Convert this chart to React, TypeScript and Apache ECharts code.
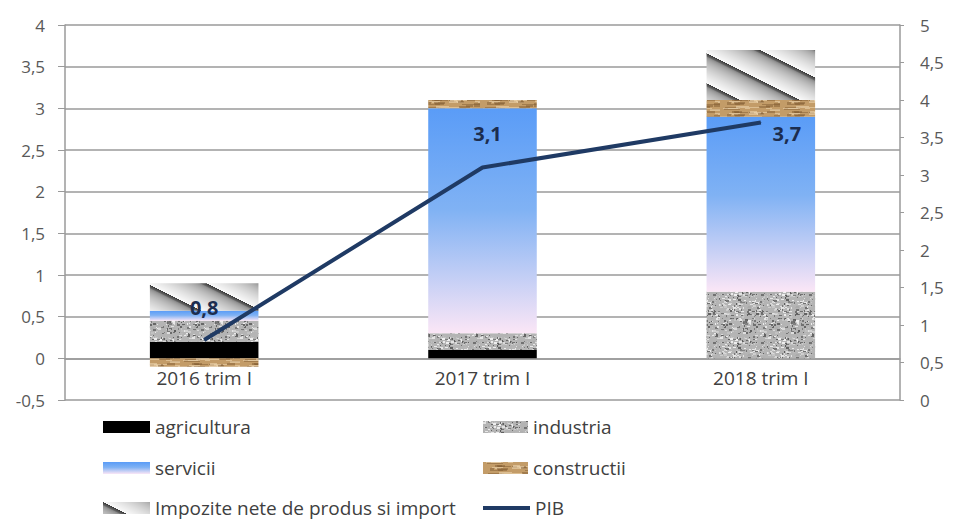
import React, { useEffect, useRef } from 'react';
import * as echarts from 'echarts';

const categories = ['2016 trim I', '2017 trim I', '2018 trim I'];
const agricultura = [0.2, 0.1, 0];
const industria = [0.25, 0.2, 0.8];
const servicii = [0.12, 2.7, 2.1];
const constructii = [-0.1, 0.1, 0.2];
const impozite = [0.33, 0, 0.6];
const pib = [0.8, 3.1, 3.7];
const pibLabelOffsets = [[0, -17], [5, -19], [26, 26]];

const leftAxis = { min: -0.5, max: 4, step: 0.5 };
const rightAxis = { min: 0, max: 5, step: 0.5 };

const GRID = { left: 65, right: 55, top: 25, bottom: 120 };
const PLOT_H = 520 - GRID.top - GRID.bottom;
const ZERO_OFFSET = -((0 - leftAxis.min) / (leftAxis.max - leftAxis.min)) * PLOT_H;

function makeRng(seed: number) {
  let s = seed >>> 0;
  return () => {
    s = (s * 1664525 + 1013904223) >>> 0;
    return s / 4294967296;
  };
}

function granite(): HTMLCanvasElement {
  const c = document.createElement('canvas');
  c.width = 48; c.height = 48;
  const ctx = c.getContext('2d')!;
  const r = makeRng(7);
  ctx.fillStyle = '#b4b4b4';
  ctx.fillRect(0, 0, 48, 48);
  for (let i = 0; i < 420; i++) {
    const x = Math.floor(r() * 48);
    const y = Math.floor(r() * 48);
    const q = r();
    const v = q < 0.35 ? Math.round(90 + r() * 40) : Math.round(170 + r() * 70);
    ctx.fillStyle = `rgb(${v},${v},${v})`;
    ctx.fillRect(x, y, 1 + Math.floor(r() * 3), 1 + Math.floor(r() * 2));
  }
  return c;
}

function wood(): HTMLCanvasElement {
  const c = document.createElement('canvas');
  c.width = 60; c.height = 12;
  const ctx = c.getContext('2d')!;
  const r = makeRng(11);
  ctx.fillStyle = '#c39c68';
  ctx.fillRect(0, 0, 60, 12);
  for (let i = 0; i < 40; i++) {
    const x = Math.floor(r() * 60);
    const y = Math.floor(r() * 12);
    const w = 4 + Math.floor(r() * 12);
    const dark = r() < 0.5;
    ctx.fillStyle = dark ? 'rgba(130,92,50,0.5)' : 'rgba(236,214,175,0.6)';
    ctx.fillRect(x, y, w, 1 + Math.floor(r() * 2));
  }
  return c;
}

function stripes(): HTMLCanvasElement {
  const P = 30;
  const c = document.createElement('canvas');
  c.width = P * 2; c.height = P;
  const ctx = c.getContext('2d')!;
  const img = ctx.createImageData(P * 2, P);
  for (let y = 0; y < P; y++) {
    for (let x = 0; x < P * 2; x++) {
      let u = (y - 0.5 * x) % P;
      if (u < 0) u += P;
      const t = u / P;
      let v: number;
      if (t < 0.1) v = 60 + 50 * (t / 0.1);
      else v = 120 + 130 * Math.pow((t - 0.1) / 0.9, 0.5);
      const i = (y * P * 2 + x) * 4;
      img.data[i] = v; img.data[i + 1] = v; img.data[i + 2] = v; img.data[i + 3] = 255;
    }
  }
  ctx.putImageData(img, 0, 0);
  return c;
}

const fmt = (v: number) => String(v).replace('.', ',');
const FONT = 'Open Sans';
const NAVY = '#1f3a64';

export default function App() {
  const ref = useRef<HTMLDivElement>(null);
  useEffect(() => {
    if (!ref.current) return;
    const chart = echarts.init(ref.current, undefined, { renderer: 'svg' });
    const graniteP = { image: granite(), repeat: 'repeat' };
    const woodP = { image: wood(), repeat: 'repeat' };
    const stripeP = { image: stripes(), repeat: 'repeat' };
    const servGrad = new echarts.graphic.LinearGradient(0, 0, 0, 1, [
      { offset: 0, color: '#5a9cf7' },
      { offset: 0.45, color: '#80b2f4' },
      { offset: 1, color: '#fbe6f6' },
    ]);
    const barW = '39%';
    const bar = (name: string, data: number[], color: any) => ({
      name, type: 'bar', stack: 'total', data, barWidth: barW,
      itemStyle: { color }, yAxisIndex: 0,
    });
    const legendItem = (name: string, left: number, top: number, w: number) => {
      const isLine = name === 'PIB';
      const item: any = {
        data: [name], left, top, padding: 0, itemWidth: w, itemHeight: isLine ? 4 : 12,
        icon: 'rect',
        textStyle: { fontFamily: FONT, fontSize: 19, color: '#404040', lineHeight: 20 },
        selectedMode: false,
      };
      if (isLine) item.itemStyle = { color: NAVY };
      return item;
    };
    chart.setOption({
      animation: false,
      grid: GRID,
      legend: [
        legendItem('agricultura', 103, 417, 47),
        legendItem('industria', 483, 417, 45),
        legendItem('servicii', 103, 458, 47),
        legendItem('constructii', 483, 458, 45),
        legendItem('Impozite nete de produs si import', 103, 498, 47),
        legendItem('PIB', 483, 498, 47),
      ],
      xAxis: {
        type: 'category', data: categories, offset: ZERO_OFFSET,
        axisLine: { onZero: false, lineStyle: { color: '#9a9a9a', width: 1.5 } },
        axisTick: { show: false },
        axisLabel: { fontFamily: FONT, fontSize: 19, color: '#404040', margin: 10 },
      },
      yAxis: [
        {
          type: 'value', min: leftAxis.min, max: leftAxis.max, interval: leftAxis.step,
          axisLine: { show: true, lineStyle: { color: '#9a9a9a', width: 1.5 } },
          axisTick: { show: true, length: 7, lineStyle: { color: '#9a9a9a' } },
          axisLabel: { fontFamily: FONT, fontSize: 17, color: '#595959', formatter: fmt, margin: 20 },
          splitLine: { lineStyle: { color: '#9a9a9a', width: 1.5 } },
        },
        {
          type: 'value', min: rightAxis.min, max: rightAxis.max, interval: rightAxis.step,
          position: 'right',
          axisLine: { show: true, lineStyle: { color: '#9a9a9a', width: 1.5 } },
          axisTick: { show: true, length: 4, lineStyle: { color: '#9a9a9a' } },
          axisLabel: { fontFamily: FONT, fontSize: 17, color: '#595959', formatter: fmt, margin: 20 },
          splitLine: { show: false },
        },
      ],
      series: [
        bar('agricultura', agricultura, '#000000'),
        bar('industria', industria, graniteP),
        bar('servicii', servicii, servGrad),
        bar('constructii', constructii, woodP),
        bar('Impozite nete de produs si import', impozite, stripeP),
        {
          name: 'PIB', type: 'line', yAxisIndex: 1, symbol: 'circle', symbolSize: 1,
          showSymbol: true, z: 5,
          data: pib.map((v, i) => ({
            value: v,
            label: { offset: pibLabelOffsets[i] },
          })),
          lineStyle: { color: NAVY, width: 4 },
          itemStyle: { color: NAVY },
          label: {
            show: true, position: 'top', formatter: (p: any) => fmt(p.value),
            fontFamily: FONT, fontSize: 20, fontWeight: 'bold', color: '#1c2d4f',
          },
        },
      ],
    });
    return () => chart.dispose();
  }, []);
  return <div ref={ref} style={{ width: 955, height: 520, position: 'absolute', left: 0, top: 0 }} />;
}
